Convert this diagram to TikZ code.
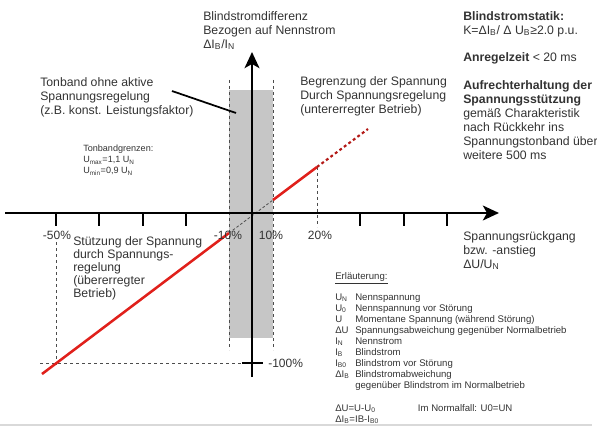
\documentclass[tikz,border=0pt]{standalone}
\usepackage{fontspec}
\setmainfont{Liberation Sans}
\usepackage{tikz}
\usetikzlibrary{arrows.meta, positioning}
\definecolor{txtgray}{HTML}{333333}
\definecolor{bandgray}{HTML}{C6C6C6}
\definecolor{kennred}{HTML}{E0201B}
\tikzstyle{axis} = [line width=2.2pt, -{Stealth[length=12pt,width=11pt,inset=3pt]}]
\tikzstyle{guide} = [line width=0.7pt, dash pattern=on 2.5pt off 2pt, black!70]
\tikzstyle{lbl} = [align=left, anchor=north west, inner sep=0pt, text=txtgray, font=\fontsize{9.2}{10.5}\selectfont]
\tikzstyle{legtext} = [align=left, anchor=north west, inner sep=0pt, text=txtgray, font=\fontsize{7.2}{8.3}\selectfont]
\tikzstyle{pct} = [inner sep=0pt, text=txtgray, font=\fontsize{9}{10}\selectfont]

\begin{document}
\begin{tikzpicture}[x=0.75pt, y=-0.75pt]
\useasboundingbox (0,0) rectangle (597,428);
\coordinate (O) at (252,213);
\coordinate (xstart) at (5,213);
\coordinate (xend) at (499,213);
\coordinate (ystart) at (252,377);
\coordinate (yend) at (252,52);

% Tonband
\fill[bandgray] (229,90) rectangle (273,338);
\draw[guide] (229,80) -- (229,350);
\draw[guide] (273,80) -- (273,350);

% Hilfslinien
\coordinate (m50a) at (56,242);
\coordinate (m50b) at (56,366);
\coordinate (h100a) at (40,363);
\coordinate (h100b) at (242,363);
\coordinate (h100c) at (263,363);
\coordinate (p20a) at (317,167);
\coordinate (p20b) at (317,227);
\draw[guide] (m50a) -- (m50b);
\draw[guide] (h100a) -- (h100b);
\draw[line width=0.9pt] (h100b) -- (h100c);
\draw[guide] (p20a) -- (p20b);

% Kennlinie
\coordinate (kA) at (42,374);
\coordinate (kB) at (229,233);
\coordinate (kC) at (273,200);
\coordinate (kD) at (368,129);
\draw[kennred, line width=1.9pt] (kA) -- (kB);
\draw[black!70, line width=0.6pt, dash pattern=on 2pt off 1.5pt] (kB) -- (kC);
\draw[kennred, line width=1.9pt] (kC) -- (p20a);
\draw[kennred!80!black, line width=1.6pt, dash pattern=on 2.2pt off 2pt] (p20a) -- (kD);

% Achsen
\draw[axis] (xstart) -- (xend);
\draw[axis] (ystart) -- (yend);
\foreach \tx in {56,99,143,186,360,404,447}
  \draw[line width=0.9pt] (\tx,213) -- (\tx,226);

% Beschriftung
\node[lbl] (ylbl) at (203,11) {Blindstromdifferenz\\ Bezogen auf Nennstrom\\ ΔI\textsubscript{B}/I\textsubscript{N}};
\node[lbl] (statik) at (463,11) {\textbf{Blindstromstatik:}\\ K=ΔI\textsubscript{B}/ Δ U\textsubscript{B}≥2.0 p.u.};
\node[lbl] (anregel) at (463,52) {\textbf{Anregelzeit} < 20 ms};
\node[lbl] (aufrecht) at (463,80) {\textbf{Aufrechterhaltung der}\\ \textbf{Spannungsstützung}\\ gemäß Charakteristik\\ nach Rückkehr ins\\ Spannungstonband über\\ weitere 500 ms};
\node[lbl] (tonband) at (40,77) {Tonband ohne aktive\\ Spannungsregelung\\ (z.B. konst. Leistungsfaktor)};
\coordinate (zeigerA) at (172,91);
\coordinate (zeigerB) at (236,113);
\draw[line width=1.3pt] (zeigerA) -- (zeigerB);
\node[legtext, font=\fontsize{6.8}{8.2}\selectfont] (grenzen) at (83,145) {Tonbandgrenzen:\\ U\textsubscript{max}=1,1 U\textsubscript{N}\\ U\textsubscript{min}=0,9 U\textsubscript{N}};
\node[lbl] (begrenz) at (300,76) {Begrenzung der Spannung\\ Durch Spannungsregelung\\ (untererregter Betrieb)};
\node[lbl, font=\fontsize{9.2}{9.9}\selectfont] (stuetz) at (73,236) {Stützung der Spannung\\ durch Spannungs-\\ regelung\\ (übererregter\\ Betrieb)};
\node[lbl] (xlbl) at (463,231) {Spannungsrückgang\\ bzw. -anstieg\\ ΔU/U\textsubscript{N}};

\node[pct] (p50) at (57,235) {-50\%};
\node[pct] (p10m) at (228,235) {-10\%};
\node[pct] (p10) at (271,235) {10\%};
\node[pct] (p20) at (320,235) {20\%};
\node[pct, anchor=west] (p100) at (268,363) {-100\%};

% Erlaeuterung
\node[legtext] (erl) at (335,272) {\underline{Erläuterung:}};
\node[legtext] (legende) at (335,292) {%
  \begin{tabular}{@{}p{15pt}@{}l@{}}
  U\textsubscript{N} & Nennspannung\\
  U\textsubscript{0} & Nennspannung vor Störung\\
  U & Momentane Spannung (während Störung)\\
  ΔU & Spannungsabweichung gegenüber Normalbetrieb\\
  I\textsubscript{N} & Nennstrom\\
  I\textsubscript{B} & Blindstrom\\
  I\textsubscript{B0} & Blindstrom vor Störung\\
  ΔI\textsubscript{B} & Blindstromabweichung\\
   & gegenüber Blindstrom im Normalbetrieb
  \end{tabular}};
\node[legtext] (formel) at (335,403) {%
  \begin{tabular}{@{}p{62pt}@{}l@{}}
  ΔU=U-U\textsubscript{0} & Im Normalfall: U0=UN\\
  ΔI\textsubscript{B}=IB-I\textsubscript{B0} &
  \end{tabular}};
\coordinate (fussA) at (0,425);
\coordinate (fussB) at (592,425);
\draw[black!15, line width=1.2pt] (fussA) -- (fussB);
\end{tikzpicture}
\end{document}
